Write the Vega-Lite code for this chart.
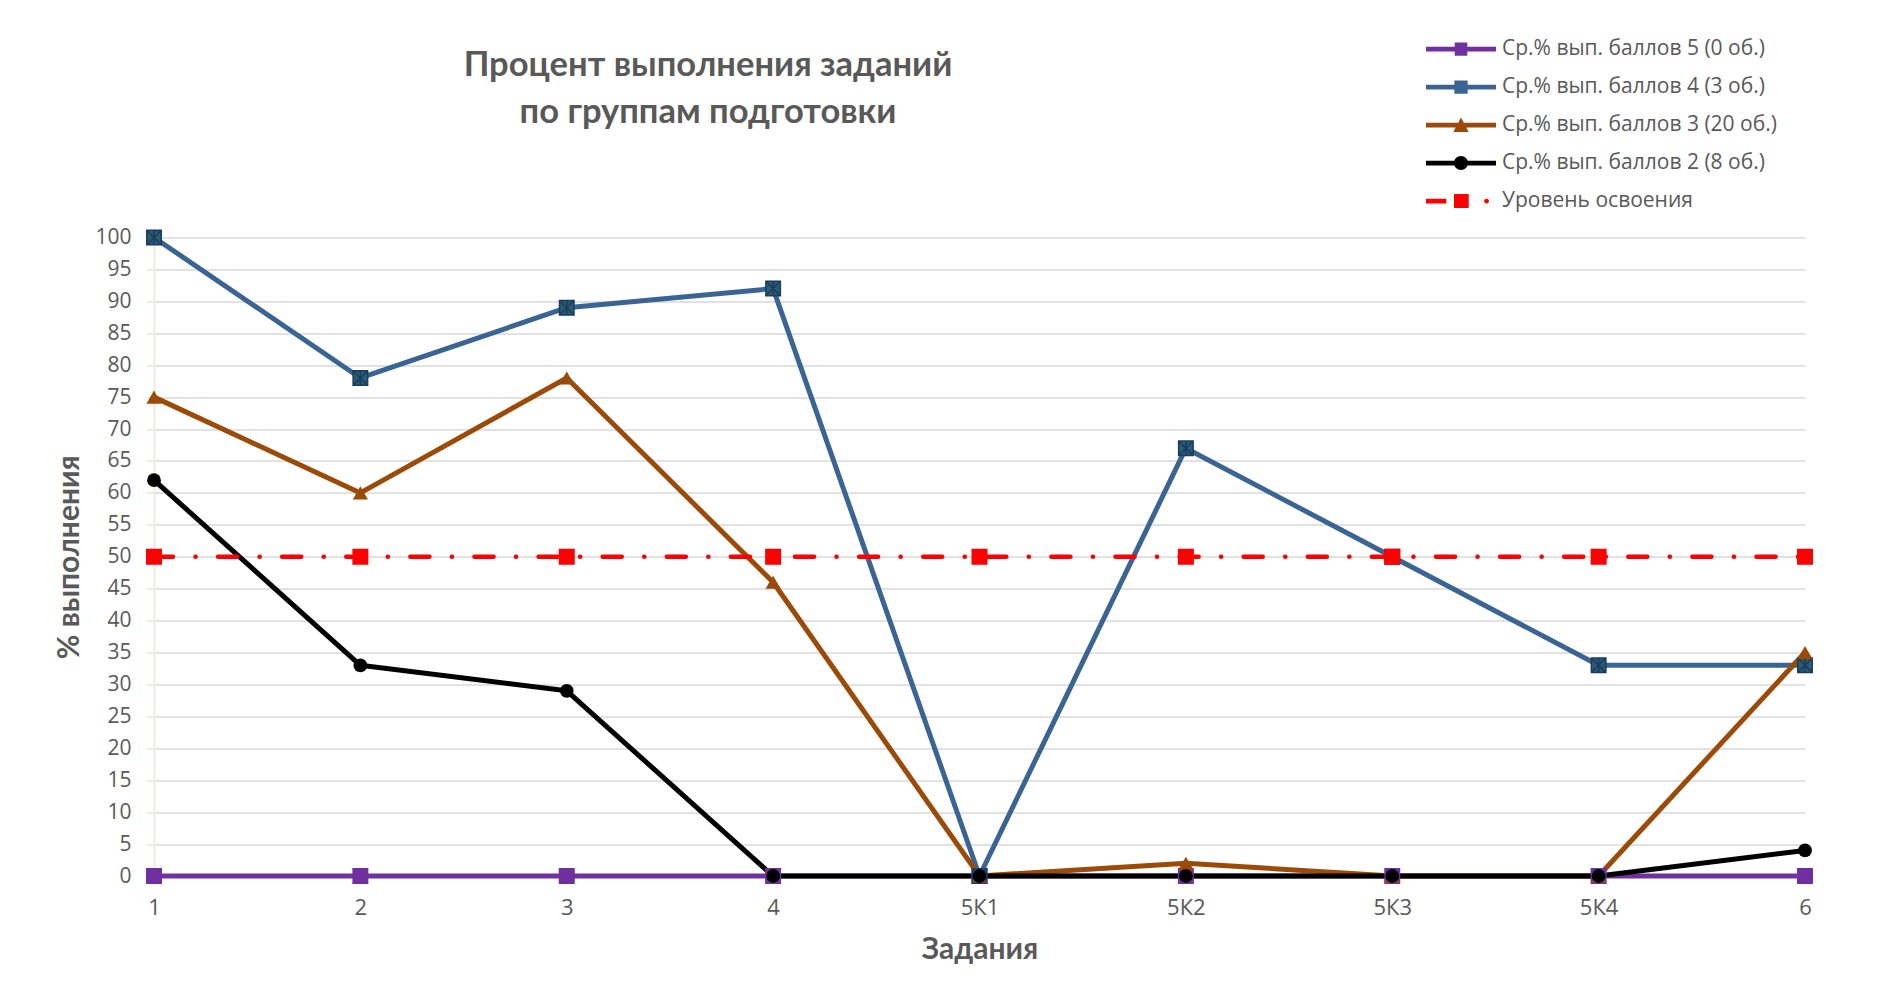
{
  "$schema": "https://vega.github.io/schema/vega-lite/v6.json",
  "autosize": {"type": "none"},
  "padding": {"left": 154, "top": 237.5, "right": 96, "bottom": 122},
  "width": 1651,
  "height": 638.5,
  "background": "white",
  "config": {"view": {"stroke": null}},
  "title": {
    "text": ["Процент выполнения заданий", "по группам подготовки"],
    "anchor": "middle",
    "frame": "group",
    "dx": -271.5,
    "offset": -100.4,
    "font": "Lato",
    "fontSize": 34.5,
    "fontWeight": "bold",
    "color": "#595959",
    "lineHeight": 47
  },
  "data": {
    "values": [
      {"task": "1", "series": "Ср.% вып. баллов 5 (0 об.)", "value": 0},
      {"task": "2", "series": "Ср.% вып. баллов 5 (0 об.)", "value": 0},
      {"task": "3", "series": "Ср.% вып. баллов 5 (0 об.)", "value": 0},
      {"task": "4", "series": "Ср.% вып. баллов 5 (0 об.)", "value": 0},
      {"task": "5К1", "series": "Ср.% вып. баллов 5 (0 об.)", "value": 0},
      {"task": "5К2", "series": "Ср.% вып. баллов 5 (0 об.)", "value": 0},
      {"task": "5К3", "series": "Ср.% вып. баллов 5 (0 об.)", "value": 0},
      {"task": "5К4", "series": "Ср.% вып. баллов 5 (0 об.)", "value": 0},
      {"task": "6", "series": "Ср.% вып. баллов 5 (0 об.)", "value": 0},
      {"task": "1", "series": "Ср.% вып. баллов 4 (3 об.)", "value": 100},
      {"task": "2", "series": "Ср.% вып. баллов 4 (3 об.)", "value": 78},
      {"task": "3", "series": "Ср.% вып. баллов 4 (3 об.)", "value": 89},
      {"task": "4", "series": "Ср.% вып. баллов 4 (3 об.)", "value": 92},
      {"task": "5К1", "series": "Ср.% вып. баллов 4 (3 об.)", "value": 0},
      {"task": "5К2", "series": "Ср.% вып. баллов 4 (3 об.)", "value": 67},
      {"task": "5К3", "series": "Ср.% вып. баллов 4 (3 об.)", "value": 50},
      {"task": "5К4", "series": "Ср.% вып. баллов 4 (3 об.)", "value": 33},
      {"task": "6", "series": "Ср.% вып. баллов 4 (3 об.)", "value": 33},
      {"task": "1", "series": "Ср.% вып. баллов 3 (20 об.)", "value": 75},
      {"task": "2", "series": "Ср.% вып. баллов 3 (20 об.)", "value": 60},
      {"task": "3", "series": "Ср.% вып. баллов 3 (20 об.)", "value": 78},
      {"task": "4", "series": "Ср.% вып. баллов 3 (20 об.)", "value": 46},
      {"task": "5К1", "series": "Ср.% вып. баллов 3 (20 об.)", "value": 0},
      {"task": "5К2", "series": "Ср.% вып. баллов 3 (20 об.)", "value": 2},
      {"task": "5К3", "series": "Ср.% вып. баллов 3 (20 об.)", "value": 0},
      {"task": "5К4", "series": "Ср.% вып. баллов 3 (20 об.)", "value": 0},
      {"task": "6", "series": "Ср.% вып. баллов 3 (20 об.)", "value": 35},
      {"task": "1", "series": "Ср.% вып. баллов 2 (8 об.)", "value": 62},
      {"task": "2", "series": "Ср.% вып. баллов 2 (8 об.)", "value": 33},
      {"task": "3", "series": "Ср.% вып. баллов 2 (8 об.)", "value": 29},
      {"task": "4", "series": "Ср.% вып. баллов 2 (8 об.)", "value": 0},
      {"task": "5К1", "series": "Ср.% вып. баллов 2 (8 об.)", "value": 0},
      {"task": "5К2", "series": "Ср.% вып. баллов 2 (8 об.)", "value": 0},
      {"task": "5К3", "series": "Ср.% вып. баллов 2 (8 об.)", "value": 0},
      {"task": "5К4", "series": "Ср.% вып. баллов 2 (8 об.)", "value": 0},
      {"task": "6", "series": "Ср.% вып. баллов 2 (8 об.)", "value": 4},
      {"task": "1", "series": "Уровень освоения", "value": 50},
      {"task": "2", "series": "Уровень освоения", "value": 50},
      {"task": "3", "series": "Уровень освоения", "value": 50},
      {"task": "4", "series": "Уровень освоения", "value": 50},
      {"task": "5К1", "series": "Уровень освоения", "value": 50},
      {"task": "5К2", "series": "Уровень освоения", "value": 50},
      {"task": "5К3", "series": "Уровень освоения", "value": 50},
      {"task": "5К4", "series": "Уровень освоения", "value": 50},
      {"task": "6", "series": "Уровень освоения", "value": 50}
    ]
  },
  "encoding": {
    "x": {
      "field": "task",
      "type": "ordinal",
      "scale": {"type": "point", "padding": 0, "domain": ["1", "2", "3", "4", "5К1", "5К2", "5К3", "5К4", "6"]},
      "axis": {
        "labelAngle": 0,
        "ticks": false,
        "tickSize": 0,
        "domain": true,
        "domainColor": "#d9d9d9",
        "domainWidth": 1.5,
        "grid": false,
        "labelFont": "Open Sans",
        "labelFontSize": 22,
        "labelColor": "#595959",
        "labelBaseline": "middle",
        "labelPadding": 31,
        "title": "Задания",
        "titleFont": "Lato",
        "titleFontSize": 30,
        "titleFontWeight": "bold",
        "titleColor": "#595959",
        "titleX": 825.5,
        "titleY": 73,
        "titleBaseline": "middle",
        "titleAlign": "center"
      }
    },
    "y": {
      "field": "value",
      "type": "quantitative",
      "scale": {"domain": [0, 100], "nice": false, "zero": true},
      "axis": {
        "values": [0, 5, 10, 15, 20, 25, 30, 35, 40, 45, 50, 55, 60, 65, 70, 75, 80, 85, 90, 95, 100],
        "domainColor": "#eeece1",
        "domainWidth": 2,
        "tickColor": "#eeece1",
        "tickSize": 8,
        "tickWidth": 2,
        "grid": true,
        "gridColor": "#d9d9d9",
        "gridWidth": 1.6,
        "labelFont": "Open Sans",
        "labelFontSize": 21,
        "labelColor": "#595959",
        "labelPadding": 15,
        "title": "% выполнения",
        "titleFont": "Lato",
        "titleFontSize": 30,
        "titleFontWeight": "bold",
        "titleColor": "#595959",
        "titleAngle": -90,
        "titleX": -85,
        "titleY": 319.25,
        "titleBaseline": "middle",
        "titleAlign": "center"
      }
    }
  },
  "layer": [
    {
      "transform": [{"filter": "datum.value < 0"}],
      "mark": {"type": "point", "filled": true, "opacity": 1, "strokeWidth": 0},
      "encoding": {
        "color": {
          "field": "series",
          "type": "nominal",
          "scale": {
            "domain": ["Ср.% вып. баллов 5 (0 об.)", "Ср.% вып. баллов 4 (3 об.)", "Ср.% вып. баллов 3 (20 об.)", "Ср.% вып. баллов 2 (8 об.)", "Уровень освоения"],
            "range": ["#7030a0", "#3a6494", "#9c4a08", "#000000", "#ff0000"]
          },
          "legend": {
            "orient": "none",
            "legendX": 1272,
            "legendY": -207.2,
            "title": null,
            "padding": 0,
            "symbolSize": 4900,
            "symbolStrokeWidth": 0,
            "symbolOpacity": 1,
            "labelFont": "Open Sans",
            "labelFontSize": 21,
            "labelColor": "#595959",
            "labelOffset": 6,
            "labelLimit": 400,
            "clipHeight": 37.6,
            "rowPadding": 0
          }
        },
        "shape": {
          "field": "series",
          "type": "nominal",
          "scale": {
            "domain": ["Ср.% вып. баллов 5 (0 об.)", "Ср.% вып. баллов 4 (3 об.)", "Ср.% вып. баллов 3 (20 об.)", "Ср.% вып. баллов 2 (8 об.)", "Уровень освоения"],
            "range": [
              "M-1,-0.065H1V0.065H-1Z M-0.18,-0.19H0.18V0.19H-0.18Z",
              "M-1,-0.065H1V0.065H-1Z M-0.19,-0.19H0.19V0.19H-0.19Z",
              "M-1,-0.065H1V0.065H-1Z M0,-0.22L0.22,0.2H-0.22Z",
              "M-1,-0.065H1V0.065H-1Z M-0.2,0A0.2,0.2 0 1,1 0.2,0A0.2,0.2 0 1,1 -0.2,0Z",
              "M-1,-0.065H-0.42V0.065H-1Z M-0.2,-0.2H0.22V0.2H-0.2Z M0.66,0A0.07,0.07 0 1,1 0.8,0A0.07,0.07 0 1,1 0.66,0Z"
            ]
          }
        }
      }
    },
    {
      "transform": [{"filter": "datum.series === 'Ср.% вып. баллов 5 (0 об.)'"}],
      "mark": {"type": "line", "strokeWidth": 5, "strokeJoin": "round", "color": "#7030a0"},
      "encoding": {}
    },
    {
      "transform": [{"filter": "datum.series === 'Ср.% вып. баллов 4 (3 об.)'"}],
      "mark": {"type": "line", "strokeWidth": 5, "strokeJoin": "round", "color": "#3a6494"},
      "encoding": {}
    },
    {
      "transform": [{"filter": "datum.series === 'Ср.% вып. баллов 3 (20 об.)'"}],
      "mark": {"type": "line", "strokeWidth": 5, "strokeJoin": "round", "color": "#9c4a08"},
      "encoding": {}
    },
    {
      "transform": [{"filter": "datum.series === 'Ср.% вып. баллов 2 (8 об.)'"}],
      "mark": {"type": "line", "strokeWidth": 5, "strokeJoin": "round", "color": "#000000"},
      "encoding": {}
    },
    {
      "transform": [{"filter": "datum.series === 'Уровень освоения'"}],
      "mark": {"type": "line", "strokeWidth": 4.6, "strokeCap": "round", "strokeDash": [19, 22.5, 0.1, 22.5], "color": "#ff0000"},
      "encoding": {}
    },
    {
      "transform": [{"filter": {"field": "series", "oneOf": ["Ср.% вып. баллов 5 (0 об.)", "Ср.% вып. баллов 4 (3 об.)", "Уровень освоения"]}}],
      "mark": {"type": "point", "filled": true, "opacity": 1, "size": 210, "strokeWidth": 1.5, "shape": "M-1,-1H1V1H-1Z M-1,-1L1,1 M1,-1L-1,1 M0,-1L0,1"},
      "encoding": {
        "fill": {
          "field": "series",
          "type": "nominal",
          "scale": {
            "domain": ["Ср.% вып. баллов 5 (0 об.)", "Ср.% вып. баллов 4 (3 об.)", "Ср.% вып. баллов 3 (20 об.)", "Ср.% вып. баллов 2 (8 об.)", "Уровень освоения"],
            "range": ["#7030a0", "#285d6c", "#9c4a08", "#000000", "#ff0000"]
          },
          "legend": null
        },
        "stroke": {
          "field": "series",
          "type": "nominal",
          "scale": {
            "domain": ["Ср.% вып. баллов 5 (0 об.)", "Ср.% вып. баллов 4 (3 об.)", "Ср.% вып. баллов 3 (20 об.)", "Ср.% вып. баллов 2 (8 об.)", "Уровень освоения"],
            "range": ["#7030a0", "#1c3a66", "#9c4a08", "#000000", "#ff0000"]
          },
          "legend": null
        }
      }
    },
    {
      "transform": [{"filter": "datum.series === 'Ср.% вып. баллов 3 (20 об.)'"}],
      "mark": {"type": "point", "filled": true, "opacity": 1, "shape": "triangle-up", "size": 230, "color": "#9c4a08"},
      "encoding": {}
    },
    {
      "transform": [{"filter": "datum.series === 'Ср.% вып. баллов 2 (8 об.)'"}],
      "mark": {"type": "point", "filled": true, "opacity": 1, "shape": "circle", "size": 190, "color": "#000000"},
      "encoding": {}
    }
  ]
}
